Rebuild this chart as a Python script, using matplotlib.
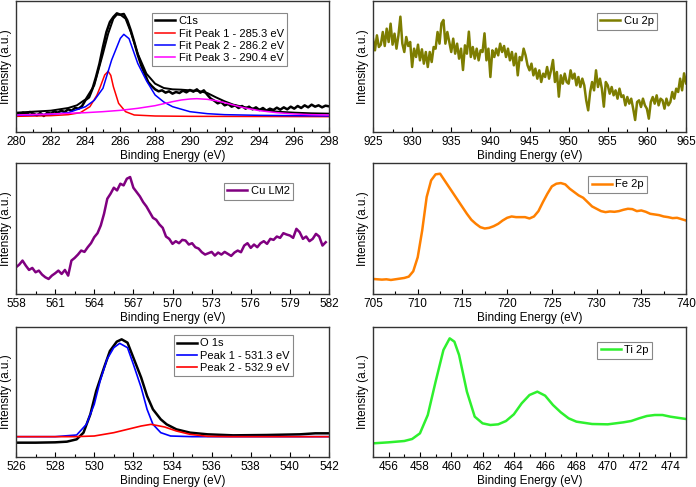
import numpy as np
import matplotlib
matplotlib.use("Agg")
import matplotlib.pyplot as plt
from matplotlib.ticker import MultipleLocator, AutoMinorLocator

plt.rcParams['font.family'] = ['Liberation Sans', 'DejaVu Sans']
plt.rcParams['font.size'] = 8.5

# ---- C1s ----
c1s_x = np.arange(280, 298.01, 0.2)
c1s_y = [56, 52, 58, 54, 60, 55, 50, 57, 48, 58, 55, 62, 58, 64, 60, 68, 64, 72, 70, 78,
         96, 104, 130, 165, 205, 255, 300, 330, 345, 356, 352, 354, 335, 305, 270, 232, 200, 175, 150, 138,
         128, 122, 125, 118, 122, 115, 120, 117, 124, 119, 126, 121, 128, 118, 125, 112, 100, 94, 86, 90,
         80, 84, 76, 80, 72, 78, 70, 76, 68, 74, 66, 72, 64, 70, 66, 73, 67, 74, 68, 76,
         70, 78, 72, 80, 74, 82, 76, 80, 74, 79, 77]
c1s_env_x = [280, 281, 282, 283, 283.5, 284, 284.5, 285, 285.3, 285.6, 285.8, 286.0, 286.3, 286.6, 287,
             287.5, 288, 288.5, 289, 289.5, 290, 290.5, 291, 291.5, 292, 292.5, 293, 294, 295, 296, 297, 298]
c1s_env_y = [58, 61, 64, 72, 80, 98, 140, 235, 295, 340, 352, 352, 340, 300, 235,
             175, 145, 132, 128, 127, 125, 123, 117, 104, 92, 82, 76, 67, 61, 58, 56, 55]
peak1_x = [280, 282, 283, 283.7, 284.25, 284.65, 284.85, 285.1, 285.3, 285.45, 285.6, 285.9, 286.3, 286.8, 288, 290, 298]
peak1_y = [47, 49, 52, 58, 76, 110, 136, 171, 182, 170, 136, 86, 61, 51, 48, 47, 46]
peak2_x = [280, 282, 283, 284, 284.5, 285, 285.5, 286, 286.2, 286.5, 287, 287.5, 288, 288.5, 289, 290, 291, 292, 294, 296, 298]
peak2_y = [50, 53, 58, 76, 95, 131, 216, 281, 293, 280, 206, 154, 111, 90, 76, 61, 55, 52, 50, 49, 48]
peak3_x = [280, 282, 284, 285, 286, 287, 288, 288.5, 289, 289.5, 290, 290.4, 291, 291.5, 292, 292.5, 293, 294, 295, 296, 297, 298]
peak3_y = [51, 54, 58, 61, 65, 71, 79, 85, 91, 96, 99, 100, 98, 94, 88, 81, 74, 64, 58, 54, 52, 51]

# ---- Cu 2p ----
cu2p_x = np.arange(925, 965.01, 0.25)
cu2p_y = [280, 245, 290, 255, 262, 300, 258, 310, 270, 325, 262, 295, 250, 290, 346, 265,
          240, 285, 258, 270, 195, 250, 225, 262, 215, 248, 205, 240, 195, 240, 210, 255,
          250, 300, 265, 326, 336, 265, 300, 270, 240, 280, 235, 265, 220, 250, 186, 260,
          235, 301, 225, 255, 220, 250, 215, 245, 240, 296, 215, 250, 165, 245, 225, 250,
          230, 265, 240, 258, 225, 250, 215, 240, 200, 235, 170, 225, 215, 250, 230, 200,
          185, 205, 170, 190, 160, 185, 150, 175, 165, 195, 160, 185, 216, 150, 180, 106,
          170, 145, 175, 150, 145, 185, 160, 175, 140, 165, 135, 160, 140, 95, 65, 120,
          150, 125, 185, 135, 160, 130, 76, 150, 140, 115, 135, 110, 125, 100, 130, 105,
          110, 80, 105, 85, 100, 70, 36, 90, 95, 75, 100, 80, 70, 40, 90, 105,
          85, 110, 80, 100, 95, 70, 100, 80, 90, 120, 100, 130, 120, 160, 125, 176, 146]

# ---- Cu LM2 ----
culm_x = np.arange(558, 581.76, 0.25)
culm_y = [80, 88, 100, 85, 72, 78, 65, 70, 58, 50, 45, 55, 62, 70, 60, 72,
          55, 100, 108, 118, 130, 126, 140, 152, 170, 182, 205, 240, 285, 300, 318, 310,
          330, 325, 345, 350, 318, 305, 292, 275, 262, 245, 228, 222, 208, 198, 172, 165,
          150, 158, 152, 162, 160, 148, 152, 140, 136, 125, 118, 122, 126, 115, 124, 118,
          126, 120, 114, 124, 130, 125, 145, 152, 138, 148, 140, 152, 158, 150, 165, 162,
          172, 168, 182, 178, 175, 168, 195, 185, 165, 172, 158, 165, 180, 172, 145, 155]

# ---- Fe 2p ----
fe_x = np.arange(705, 740.01, 0.5)
fe_y = [45, 44, 43, 44, 42, 44, 46, 48, 52, 68, 110, 190, 290, 340, 358, 360,
        340, 320, 300, 280, 260, 240, 222, 210, 200, 196, 198, 203, 210, 220, 228, 232,
        230, 230, 230, 226, 232, 248, 275, 300, 322, 330, 332, 328, 315, 305, 295, 288,
        275, 262, 255, 248, 245, 247, 246, 248, 252, 255, 254, 248, 250, 246, 240, 238,
        236, 232, 230, 227, 228, 224, 220]

# ---- O 1s ----
o1s_x = [526, 527, 528, 528.6, 529.1, 529.45, 529.8, 530.1, 530.5, 530.8, 531.15, 531.4, 531.7, 532,
         532.4, 532.7, 533, 533.4, 533.7, 534.2, 534.9, 535.8, 537.1, 538.8, 540.5, 541.3, 542]
o1s_y = [43, 43, 44, 46, 53, 73, 128, 198, 268, 318, 346, 353, 343, 298,
         238, 183, 143, 113, 98, 83, 73, 68, 65, 66, 68, 71, 71]
o_pk1_x = [526, 528, 529.1, 529.6, 530, 530.3, 530.65, 531, 531.3, 531.7, 532, 532.4, 532.7, 533, 533.4, 533.9, 535, 542]
o_pk1_y = [61, 61, 66, 98, 158, 228, 293, 328, 341, 328, 278, 208, 143, 98, 73, 63, 61, 61]
o_pk2_x = [526, 529, 530, 531, 531.7, 532.4, 532.9, 533.6, 534.2, 534.9, 535.8, 537, 542]
o_pk2_y = [61, 61, 63, 73, 83, 93, 98, 90, 78, 68, 62, 61, 61]

# ---- Ti 2p ----
ti_x = [455, 456, 457, 457.5, 458, 458.5, 459, 459.5, 459.9, 460.2, 460.5, 461, 461.5, 462, 462.5,
        463, 463.5, 464, 464.5, 465, 465.5, 466, 466.5, 467, 467.5, 468, 469, 470, 470.5, 471,
        471.5, 472, 472.5, 473, 473.5, 474, 475]
ti_y = [41, 44, 48, 54, 71, 126, 226, 321, 356, 346, 306, 196, 121, 101, 96,
        98, 108, 128, 161, 186, 196, 184, 156, 134, 116, 106, 99, 98, 101, 104,
        108, 116, 123, 126, 126, 121, 114]

fig = plt.figure(figsize=(6.96, 4.87), dpi=100)
W, H = 696.0, 487.0

def make_axes(x0, y0, x1, y1):
    return fig.add_axes([x0 / W, 1 - y1 / H, (x1 - x0) / W, (y1 - y0) / H])

def style(ax, xlim, ylim, major):
    ax.set_xlim(*xlim)
    ax.set_ylim(*ylim)
    ax.xaxis.set_major_locator(MultipleLocator(major))
    ax.xaxis.set_minor_locator(AutoMinorLocator(2))
    ax.tick_params(axis='x', which='both', direction='in', top=False, pad=3, labelsize=8.5)
    ax.tick_params(axis='x', which='major', length=3.5, width=0.8)
    ax.tick_params(axis='x', which='minor', length=2, width=0.8)
    ax.set_yticks([])
    for s in ax.spines.values():
        s.set_linewidth(1.0)
        s.set_color('#333333')
    ax.set_xlabel('Binding Energy (eV)', fontsize=8.5, labelpad=1)
    ax.set_ylabel('Intensity (a.u.)', fontsize=8.5, labelpad=3)

def legend(ax, anchor):
    leg = ax.legend(loc='upper right', bbox_to_anchor=anchor, borderaxespad=0, fancybox=False,
                    fontsize=8, handlelength=1.8, handletextpad=0.3, labelspacing=0.2,
                    borderpad=0.3, framealpha=1)
    leg.get_frame().set_edgecolor('#888888')
    leg.get_frame().set_linewidth(0.8)

# top-left C1s
ax1 = make_axes(16, 1, 329, 132)
ax1.plot(c1s_x, c1s_y, color='black', lw=1.8, label='C1s')
ax1.plot(c1s_env_x, c1s_env_y, color='black', lw=1.4)
ax1.plot(peak1_x, peak1_y, color='red', lw=1.1, label='Fit Peak 1 - 285.3 eV')
ax1.plot(peak2_x, peak2_y, color='blue', lw=1.1, label='Fit Peak 2 - 286.2 eV')
ax1.plot(peak3_x, peak3_y, color='#ff00ff', lw=1.1, label='Fit Peak 3 - 290.4 eV')
style(ax1, (280, 298), (0, 393), 2)
legend(ax1, (0.866, 0.908))

# top-right Cu 2p
ax2 = make_axes(373, 1, 686, 132)
ax2.plot(cu2p_x, cu2p_y, color='#7d7d00', lw=1.8, label='Cu 2p')
style(ax2, (925, 965), (0, 393), 5)
legend(ax2, (0.907, 0.908))

# middle-left Cu LM2
ax3 = make_axes(16, 163, 329, 294)
ax3.plot(culm_x, culm_y, color='#800080', lw=1.8, label='Cu LM2')
style(ax3, (558, 582), (0, 392), 3)
legend(ax3, (0.885, 0.847))

# middle-right Fe 2p
ax4 = make_axes(373, 163, 686, 294)
ax4.plot(fe_x, fe_y, color='#ff8000', lw=1.8, label='Fe 2p')
style(ax4, (705, 740), (0, 392), 5)
legend(ax4, (0.875, 0.90))

# bottom-left O 1s
ax5 = make_axes(16, 327, 329, 457)
ax5.plot(o1s_x, o1s_y, color='black', lw=1.8, label='O 1s')
ax5.plot(o_pk1_x, o_pk1_y, color='blue', lw=1.2, label='Peak 1 - 531.3 eV')
ax5.plot(o_pk2_x, o_pk2_y, color='red', lw=1.2, label='Peak 2 - 532.9 eV')
style(ax5, (526, 542), (0, 390), 2)
legend(ax5, (0.885, 0.938))

# bottom-right Ti 2p
ax6 = make_axes(373, 327, 686, 457)
ax6.plot(ti_x, ti_y, color='#2ef02e', lw=1.8, label='Ti 2p')
style(ax6, (455, 475), (0, 390), 2)
ax6.set_xticks(np.arange(456, 475, 2))
legend(ax6, (0.891, 0.885))

fig.savefig('out.png', dpi=100)
